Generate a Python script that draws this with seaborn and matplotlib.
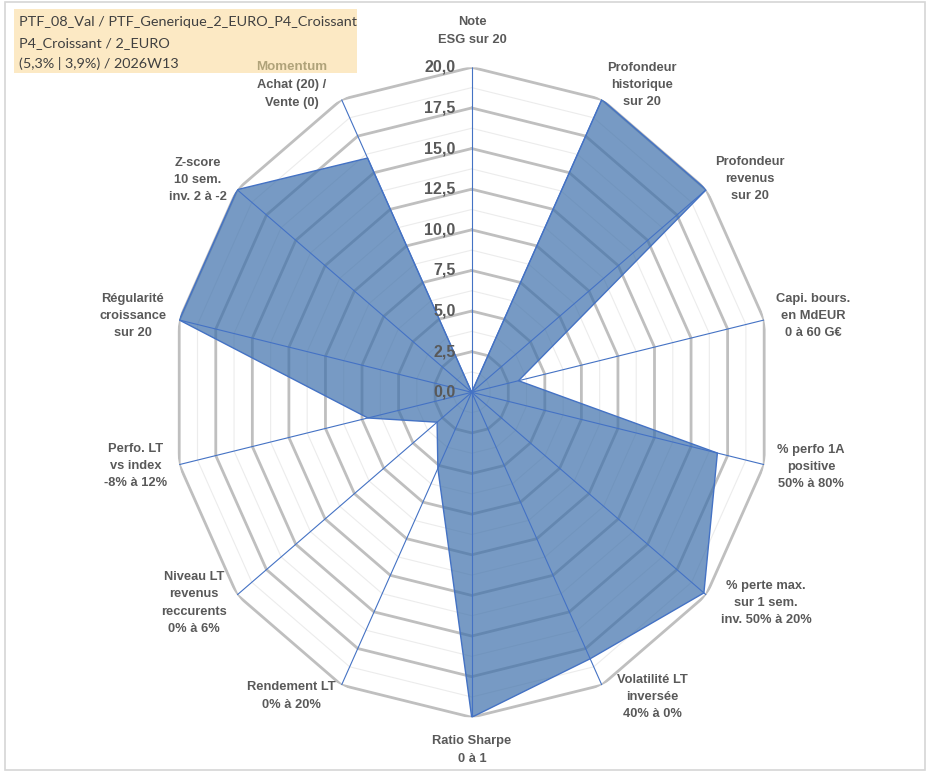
import numpy as np
import matplotlib
matplotlib.use("Agg")
import matplotlib.pyplot as plt
import seaborn as sns
from matplotlib.patches import Rectangle

# ---------------- data ----------------
categories = [
    "Note\nESG sur 20",
    "Profondeur\nhistorique\nsur 20",
    "Profondeur\nrevenus\nsur 20",
    "Capi. bours.\nen MdEUR\n0 à 60 G€",
    "% perfo 1A\npositive\n50% à 80%",
    "% perte max.\nsur 1 sem.\ninv. 50% à 20%",
    "Volatilité LT\ninversée\n40% à 0%",
    "Ratio Sharpe\n0 à 1",
    "Rendement LT\n0% à 20%",
    "Niveau LT\nrevenus\nreccurents\n0% à 6%",
    "Perfo. LT\nvs index\n-8% à 12%",
    "Régularité\ncroissance\nsur 20",
    "Z-score\n10 sem.\ninv. 2 à -2",
    "Achat (20) /\nVente (0)",
]
values = [0.0, 20.0, 20.0, 3.2, 16.8, 19.8, 18.2, 20.0, 5.2, 2.95, 7.1, 20.0, 20.0, 16.0]
momentum_header = "Momentum"
ticks = [0.0, 2.5, 5.0, 7.5, 10.0, 12.5, 15.0, 17.5, 20.0]
tick_labels = ["0,0", "2,5", "5,0", "7,5", "10,0", "12,5", "15,0", "17,5", "20,0"]
minor_ticks = [1.25, 3.75, 6.25, 8.75, 11.25, 13.75, 16.25, 18.75]
title_lines = [
    "PTF_08_Val / PTF_Generique_2_EURO_P4_Croissant",
    "P4_Croissant / 2_EURO",
    "(5,3% | 3,9%) / 2026W13",
]

# ---------------- layout (pixels) ----------------
W, H = 932, 776
cx, cy, rx, ry = 471.7, 392.3, 300.0, 325.0
label_centers = [
    (472, 31), (642, 85), (750, 179), (813, 316), (811, 467), (766, 603),
    (652, 697), (472, 750), (291, 696), (194, 603), (136, 466), (133, 316),
    (198, 180), (292, 94),
]
title_y = [22, 43, 64]

sns.set_theme(style="white")
plt.rcParams["font.family"] = ["Liberation Sans", "DejaVu Sans"]

fig = plt.figure(figsize=(W / 100, H / 100), dpi=100)
fig.patch.set_facecolor("white")

# frame and title box
fig.patches.append(Rectangle((5 / W, 1 - 770 / H), 920 / W, 768 / H, transform=fig.transFigure,
                             fill=False, edgecolor="#d6d6d6", lw=1.2, zorder=0))
fig.patches.append(Rectangle((14 / W, 1 - 73 / H), 343 / W, 64 / H, transform=fig.transFigure,
                             facecolor="#FCE9C4", edgecolor="none", zorder=0))

ax = fig.add_axes([(cx - rx) / W, 1 - (cy + ry) / H, 2 * rx / W, 2 * ry / H], projection="polar")
ax.set_aspect("auto")
ax.set_theta_zero_location("N")
ax.set_theta_direction(-1)
ax.set_ylim(0, 20)
ax.grid(False)
ax.set_xticks([])
ax.set_yticks([])
ax.spines["polar"].set_visible(False)
ax.patch.set_alpha(0)

n = len(categories)
theta = np.arange(n) * 2 * np.pi / n
theta_c = np.append(theta, theta[0])
vals_c = np.append(values, values[0])

for r in minor_ticks:
    ax.plot(theta_c, [r] * (n + 1), color="#ececec", lw=0.8, zorder=1)
for r in ticks[1:]:
    ax.plot(theta_c, [r] * (n + 1), color="#bfbfbf", lw=2.0, zorder=1.5)

ax.fill(theta_c, vals_c, color="#3E70AB", alpha=0.7, lw=0, zorder=2)

for t in theta:
    ax.plot([t, t], [0, 20], color="#4472C4", lw=0.8, zorder=3)

sns.lineplot(x=theta_c, y=vals_c, sort=False, estimator=None, ax=ax,
             color="#4472C4", lw=1.0, zorder=4)
ax.set_xlabel("")
ax.set_ylabel("")
ax.set_xticks([])
ax.set_yticks([])
ax.set_ylim(0, 20)

for r, lab in zip(ticks, tick_labels):
    ax.annotate(lab, xy=(0, r), xytext=(-11.5, 0), textcoords="offset points",
                ha="right", va="center", fontsize=11.5, fontweight="bold",
                color="#595959", annotation_clip=False, zorder=5)

for lab, (x, y) in zip(categories, label_centers):
    fig.text(x / W, 1 - y / H, lab, ha="center", va="center", multialignment="center",
             fontsize=9.3, fontweight="bold", color="#595959", linespacing=1.6)

fig.text(292 / W, 1 - 67 / H, momentum_header, ha="center", va="center",
         fontsize=9.6, fontweight="bold", color="#B0A37A")

for line, y in zip(title_lines, title_y):
    fig.text(19 / W, 1 - y / H, line, ha="left", va="center", fontsize=10.4,
             family=["Lato", "DejaVu Sans"], color="#404040")

fig.savefig("out.png", dpi=100, facecolor="white")
